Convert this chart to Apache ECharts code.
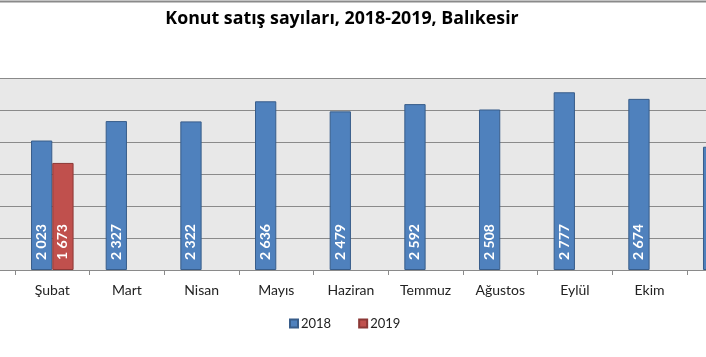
<!DOCTYPE html>
<html>
<head>
<meta charset="utf-8">
<script src="https://cdn.jsdelivr.net/npm/echarts@6/dist/echarts.min.js"></script>
<style>html,body{margin:0;padding:0;background:#fff;}#c{width:706px;height:357px;}</style>
</head>
<body>
<div id="c"></div>
<script>
var categories = ['Ocak','Şubat','Mart','Nisan','Mayıs','Haziran','Temmuz','Ağustos','Eylül','Ekim','Kasım'];
var sales2018 = [1900, 2023, 2327, 2322, 2636, 2479, 2592, 2508, 2777, 2674, 1926];
var sales2019 = [1530, 1673, null, null, null, null, null, null, null, null, null];
var yTicks = [0, 500, 1000, 1500, 2000, 2500, 3000];

function fmt(v){ return String(v).replace(/\B(?=(\d{3})+(?!\d))/g, ' '); }

var chart = echarts.init(document.getElementById('c'));
var FONT = 'Lato';
var labelCfg = {
  show: true, rotate: 90, position: 'insideBottom', distance: 10,
  align: 'left', verticalAlign: 'middle',
  color: '#fff', fontWeight: 'bold', fontSize: 14, fontFamily: FONT,
  formatter: function(p){ return fmt(p.value); }
};
chart.setOption({
  animation: false,
  backgroundColor: '#fff',
  title: {
    text: 'Konut satış sayıları, 2018-2019, Balıkesir',
    left: 337, top: 5, textAlign: 'center',
    textStyle: {fontFamily: 'Open Sans', fontWeight: 'bold', fontSize: 17.8, color: '#000'}
  },
  graphic: [{
    type: 'line', shape: {x1: 0, y1: 1.5, x2: 706, y2: 1.5},
    style: {stroke: '#8a8a8a', lineWidth: 2}, silent: true
  }],
  legend: {
    data: ['2018', '2019'], left: 284, top: 312,
    itemWidth: 8, itemHeight: 8, itemGap: 27, icon: 'rect',
    textStyle: {fontFamily: FONT, fontSize: 13, color: '#222', padding: [0,0,0,-2]}
  },
  grid: {left: -59.7, width: 821.3, top: 78, height: 192, backgroundColor: '#e8e8e8', show: true, borderWidth: 0,
         containLabel: false, outerBoundsMode: 'none'},
  xAxis: {
    type: 'category', data: categories,
    axisLine: {lineStyle: {color: '#8a8a8a', width: 1}},
    axisTick: {show: true, length: 5, lineStyle: {color: '#8a8a8a'}},
    axisLabel: {fontFamily: FONT, fontSize: 14, color: '#222', margin: 13, interval: 0}
  },
  yAxis: {
    type: 'value', min: yTicks[0], max: yTicks[yTicks.length-1], interval: 500,
    axisLabel: {show: false}, axisLine: {show: false}, axisTick: {show: false},
    splitLine: {lineStyle: {color: '#8a8a8a', width: 1}}
  },
  series: [{
    name: '2018', type: 'bar', data: sales2018, barGap: '0%', barCategoryGap: '43%',
    itemStyle: {color: '#4f81bd', borderColor: '#385d8a', borderWidth: 1},
    label: labelCfg
  }, {
    name: '2019', type: 'bar', data: sales2019, barGap: '0%', barCategoryGap: '43%',
    itemStyle: {color: '#c0504d', borderColor: '#8c3836', borderWidth: 1},
    label: labelCfg
  }]
});
</script>
</body>
</html>
